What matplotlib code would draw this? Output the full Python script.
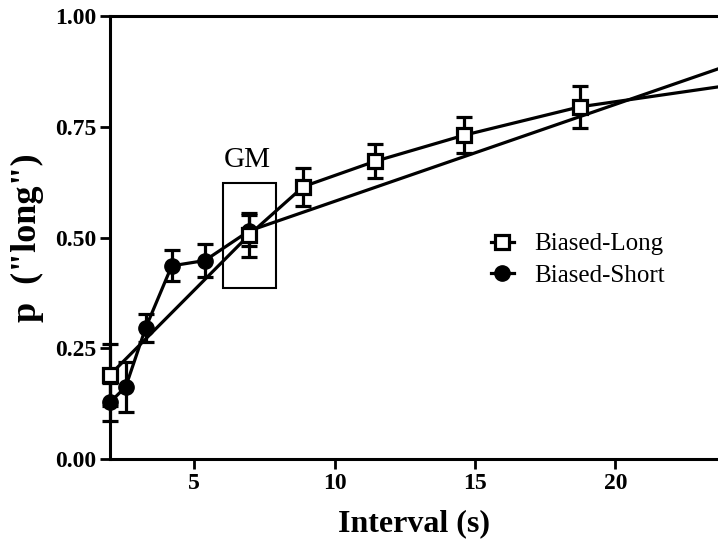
import matplotlib
matplotlib.use("Agg")
import matplotlib.pyplot as plt
from matplotlib.patches import Rectangle
from matplotlib.lines import Line2D

plt.rcParams['font.family'] = ['Liberation Serif', 'DejaVu Serif']

# Data
long_x = [2.0, 6.96, 8.89, 11.44, 14.62, 18.74, 24.0]
long_y = [0.19, 0.506, 0.615, 0.672, 0.731, 0.795, 0.843]
long_err = [0.07, 0.05, 0.043, 0.038, 0.04, 0.048, 0.04]

short_x = [2.0, 2.56, 3.27, 4.2, 5.38, 6.96, 24.0]
short_y = [0.128, 0.163, 0.296, 0.436, 0.448, 0.515, 0.888]
short_err = [0.043, 0.057, 0.032, 0.035, 0.038, 0.035, 0.04]

x_ticks = [5, 10, 15, 20]
y_ticks = [0.00, 0.25, 0.50, 0.75, 1.00]

gm_box = (6.03, 0.385, 7.93, 0.622)  # x0, y0, x1, y1

fig = plt.figure(figsize=(7.18, 5.44), dpi=100)
ax = fig.add_axes([110/718, 1 - 459/544, 1 - 110/718, (459 - 16)/544])

lw = 2.3
e1 = ax.errorbar(short_x, short_y, yerr=short_err, color='black', lw=lw,
                 marker='o', markersize=11, markerfacecolor='black',
                 markeredgecolor='black', capsize=6, capthick=lw,
                 elinewidth=lw, zorder=3)
e2 = ax.errorbar(long_x, long_y, yerr=long_err, color='black', lw=lw,
                 marker='s', markersize=10, markerfacecolor='white',
                 markeredgecolor='black', markeredgewidth=2.3, capsize=6,
                 capthick=lw, elinewidth=lw, zorder=4)
for cont in (e1, e2):
    for art in cont.get_children():
        art.set_clip_on(False)

ax.add_patch(Rectangle((gm_box[0], gm_box[1]), gm_box[2] - gm_box[0],
                       gm_box[3] - gm_box[1], fill=False, edgecolor='black',
                       lw=1.5, zorder=2))
ax.text(6.88, 0.66, 'GM', fontsize=21, ha='center', va='baseline')

ax.set_xlim(2, 23.66)
ax.set_ylim(0, 1)
ax.set_xticks(x_ticks)
ax.set_yticks(y_ticks)
ax.set_yticklabels([f'{v:.2f}' for v in y_ticks])

for s in ['left', 'bottom', 'top']:
    ax.spines[s].set_linewidth(2.2)
ax.spines['right'].set_visible(False)
ax.tick_params(direction='out', length=7, width=2, labelsize=17, pad=3)
for lab in ax.get_xticklabels() + ax.get_yticklabels():
    lab.set_fontweight('bold')

ax.set_xlabel('Interval (s)', fontsize=23, fontweight='bold', labelpad=11)
ax.set_ylabel('p  ("long")', fontsize=26, fontweight='bold', labelpad=8)

h_long = Line2D([], [], color='black', lw=lw, marker='s', markersize=10,
                markerfacecolor='white', markeredgecolor='black',
                markeredgewidth=2.3)
h_short = Line2D([], [], color='black', lw=lw, marker='o', markersize=11,
                 markerfacecolor='black', markeredgecolor='black')
ax.legend([h_long, h_short], ['Biased-Long', 'Biased-Short'],
          loc='center left', bbox_to_anchor=(0.59, 0.45),
          frameon=False, fontsize=18, handlelength=0.9,
          handletextpad=0.8, labelspacing=0.35)

fig.savefig('out.png', dpi=100)
